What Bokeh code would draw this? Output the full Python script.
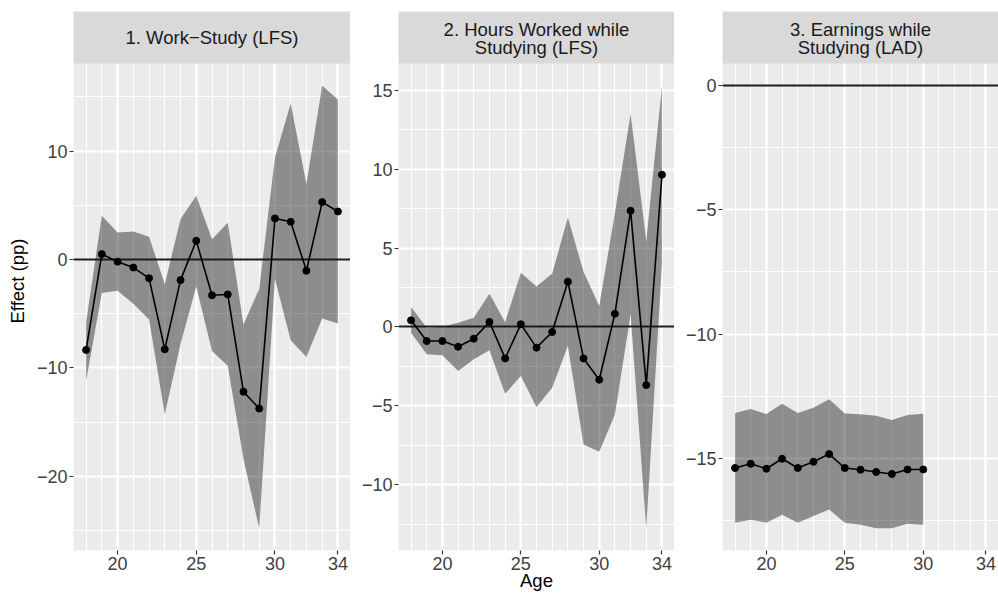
from bokeh.plotting import figure
from bokeh.layouts import row
from bokeh.models import Range1d, FixedTicker
from bokeh.embed import file_html
from bokeh.resources import INLINE
from bokeh.core.properties import value

# ---- data -------------------------------------------------------------
ages = list(range(18, 35))
ages_lad = list(range(18, 31))

# 1. Work-Study (LFS)
ws_est = [-8.34, 0.50, -0.20, -0.74, -1.72, -8.28, -1.90, 1.73, -3.30,
          -3.22, -12.20, -13.75, 3.79, 3.48, -1.04, 5.30, 4.43]
ws_lo = [-11.20, -3.10, -2.89, -4.07, -5.54, -14.28, -7.80, -2.50, -8.45,
         -9.80, -18.40, -24.80, -1.80, -7.45, -9.00, -5.45, -5.90]
ws_hi = [-5.80, 4.03, 2.49, 2.59, 2.10, -2.27, 3.73, 5.88, 1.88,
         3.40, -6.00, -2.70, 9.42, 14.40, 6.96, 16.04, 14.75]

# 2. Hours worked while studying (LFS)
hw_est = [0.42, -0.89, -0.89, -1.25, -0.74, 0.32, -1.99, 0.17, -1.31,
          -0.32, 2.87, -1.99, -3.34, 0.84, 7.36, -3.68, 9.64]
hw_lo = [-0.36, -1.73, -1.79, -2.79, -2.05, -1.48, -4.23, -3.11, -5.07,
         -3.85, -1.20, -7.44, -7.90, -5.54, 0.80, -12.75, 4.00]
hw_hi = [1.27, -0.05, 0.01, 0.27, 0.59, 2.11, 0.30, 3.44, 2.56,
         3.38, 6.93, 3.50, 1.33, 7.22, 13.50, 5.45, 15.28]

# 3. Earnings while studying (LAD)
er_est = [-15.39, -15.22, -15.42, -15.02, -15.39, -15.14, -14.83, -15.39,
          -15.46, -15.55, -15.63, -15.45, -15.45]
er_lo = [-17.59, -17.47, -17.59, -17.27, -17.59, -17.32, -17.06, -17.59,
         -17.67, -17.82, -17.82, -17.63, -17.67]
er_hi = [-13.18, -13.02, -13.22, -12.80, -13.18, -12.97, -12.62, -13.20,
         -13.23, -13.29, -13.46, -13.26, -13.21]

x_breaks = [20, 25, 30, 34]

titles = [["1. Work\u2212Study (LFS)"],
          ["2. Hours Worked while", "Studying (LFS)"],
          ["3. Earnings while", "Studying (LAD)"]]

# ---- layout constants -------------------------------------------------
H = 594
TOP = 11          # space above strip
STRIP = 52        # strip height in px
BOTTOM = 44       # space below panel
PANEL = H - TOP - STRIP - BOTTOM
FONT = "Liberation Sans"


def minus(v):
    s = ("%g" % v)
    return s.replace("-", "\u2212")


def make_panel(x, est, lo, hi, yticks, yminor, lines, width, left, right,
               ylabel=None, xlabel=None):
    xs_all = ages
    xr = max(xs_all) - min(xs_all)
    x0, x1 = min(xs_all) - 0.05 * xr, max(xs_all) + 0.05 * xr

    ymin, ymax = min(min(lo), 0), max(max(hi), 0)
    yr = ymax - ymin
    y0, y1 = ymin - 0.05 * yr, ymax + 0.05 * yr
    strip_units = (y1 - y0) * STRIP / PANEL
    ytop = y1 + strip_units

    p = figure(width=width, height=H, x_range=Range1d(x0, x1),
               y_range=Range1d(y0, ytop), output_backend="svg",
               toolbar_location=None, min_border_left=left,
               min_border_right=right, min_border_top=TOP,
               min_border_bottom=BOTTOM)
    p.background_fill_color = "#EBEBEB"
    p.border_fill_color = "white"
    p.outline_line_color = None

    p.xaxis.ticker = FixedTicker(ticks=x_breaks, minor_ticks=xs_all)
    p.yaxis.ticker = FixedTicker(ticks=yticks, minor_ticks=yminor)
    p.yaxis.major_label_overrides = {t: minus(t) for t in yticks}

    for ax in (p.xaxis[0], p.yaxis[0]):
        ax.axis_line_color = None
        ax.major_tick_line_color = "#333333"
        ax.major_tick_line_width = 1.2
        ax.major_tick_out = 4
        ax.major_tick_in = 0
        ax.minor_tick_line_color = None
        ax.major_label_text_font = FONT
        ax.major_label_text_font_size = "18px"
        ax.major_label_text_color = "#404040"
        ax.major_label_standoff = 2
        ax.axis_label_text_font = FONT
        ax.axis_label_text_font_size = "18.5px"
        ax.axis_label_text_font_style = "normal"
        ax.axis_label_text_color = "black"

    if ylabel:
        p.yaxis.axis_label = ylabel
        p.yaxis.axis_label_standoff = 6
    if xlabel:
        p.xaxis.axis_label = xlabel
        p.xaxis.axis_label_standoff = -3

    for g in (p.xgrid[0], p.ygrid[0]):
        g.grid_line_color = "white"
        g.grid_line_width = 2.2
        g.minor_grid_line_color = "white"
        g.minor_grid_line_width = 1.1

    # confidence band, zero line, estimates
    p.varea(x=x, y1=lo, y2=hi, fill_color="black", fill_alpha=0.4)
    p.hspan(y=[0], line_color="#1A1A1A", line_width=1.8)
    p.line(x, est, line_color="black", line_width=1.6)
    p.scatter(x, est, size=7, fill_color="black", line_color="black")

    # facet strip
    p.quad(left=[x0], right=[x1], bottom=[y1], top=[ytop],
           fill_color="#D9D9D9", line_color=None)
    n = len(lines)
    xc = (x0 + x1) / 2
    if n == 1:
        ys = [y1 + strip_units * 0.5]
    else:
        ys = [y1 + strip_units * 0.66, y1 + strip_units * 0.30]
    p.text(x=[xc] * n, y=ys, text=lines, text_align="center",
           text_baseline="middle", text_font=value(FONT),
           text_font_size="18.5px", text_color="#1A1A1A")
    return p


p1 = make_panel(ages, ws_est, ws_lo, ws_hi, [10, 0, -10, -20],
                [15, 5, -5, -15, -25], titles[0], 350, 73, 0,
                ylabel="Effect (pp)")
p2 = make_panel(ages, hw_est, hw_lo, hw_hi, [15, 10, 5, 0, -5, -10],
                [12.5, 7.5, 2.5, -2.5, -7.5, -12.5], titles[1], 324, 48, 0,
                xlabel="Age")
p3 = make_panel(ages_lad, er_est, er_lo, er_hi, [0, -5, -10, -15],
                [-2.5, -7.5, -12.5, -17.5], titles[2], 324, 48, 0)

layout = row(p1, p2, p3, spacing=0)
open("out.html", "w").write(file_html(layout, INLINE))
